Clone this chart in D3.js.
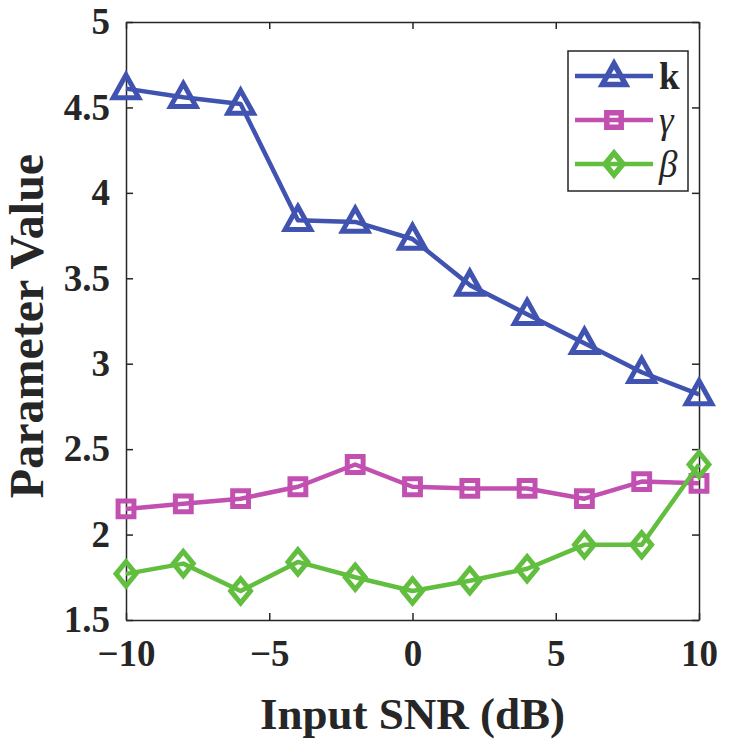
<!DOCTYPE html>
<html>
<head>
<meta charset="utf-8">
<script src="https://cdn.jsdelivr.net/npm/d3@7"></script>
<style>
  body { margin: 0; background: #fff; }
  svg text { font-family: "Liberation Serif", "Times New Roman", serif; fill: #262626; }
</style>
</head>
<body>
<svg></svg>
<script>
// data
const snr = [-10, -8, -6, -4, -2, 0, 2, 4, 6, 8, 10];
const kValues = [4.61, 4.56, 4.52, 3.84, 3.83, 3.73, 3.46, 3.29, 3.12, 2.95, 2.82];
const gammaValues = [2.15, 2.18, 2.21, 2.28, 2.41, 2.28, 2.27, 2.27, 2.21, 2.31, 2.30];
const betaValues = [1.77, 1.83, 1.67, 1.84, 1.75, 1.67, 1.73, 1.80, 1.94, 1.94, 2.41];
const xTicks = [-10, -5, 0, 5, 10];
const yTicks = [1.5, 2, 2.5, 3, 3.5, 4, 4.5, 5];

const series = [
    { name: "k", values: kValues, color: "#4153b0", marker: "triangle", bold: true },
    { name: "\u03b3", values: gammaValues, color: "#c150b0", marker: "square", bold: false },
    { name: "\u03b2", values: betaValues, color: "#62be3e", marker: "diamond", bold: false }
];

const width = 730;
const height = 746;
const margin = { top: 22, right: 31, bottom: 126, left: 126 };
const innerW = width - margin.left - margin.right;
const innerH = height - margin.top - margin.bottom;

const svg = d3.select("svg")
    .attr("width", width)
    .attr("height", height);

const x = d3.scaleLinear().domain([-10, 10]).range([0, innerW]);
const y = d3.scaleLinear().domain([1.5, 5]).range([innerH, 0]);

const g = svg.append("g")
    .attr("transform", `translate(${margin.left},${margin.top})`);

// axes with inward ticks, box on all four sides
const fmtX = d => d < 0 ? "\u2212" + Math.abs(d) : String(d);

const xBottom = g.append("g")
    .attr("transform", `translate(0,${innerH})`)
    .call(d3.axisBottom(x).tickValues(xTicks).tickSizeInner(-7).tickSizeOuter(0).tickPadding(20).tickFormat(fmtX));
const xTop = g.append("g")
    .call(d3.axisTop(x).tickValues(xTicks).tickSizeInner(-7).tickSizeOuter(0).tickFormat(""));
const yLeft = g.append("g")
    .call(d3.axisLeft(y).tickValues(yTicks).tickSizeInner(-7).tickSizeOuter(0).tickPadding(16).tickFormat(d => d));
const yRight = g.append("g")
    .attr("transform", `translate(${innerW},0)`)
    .call(d3.axisRight(y).tickValues(yTicks).tickSizeInner(-7).tickSizeOuter(0).tickFormat(""));

[xBottom, xTop, yLeft, yRight].forEach(a => {
    a.select(".domain").attr("stroke", "#262626").attr("stroke-width", 1.5);
    a.selectAll(".tick line").attr("stroke", "#262626").attr("stroke-width", 1.5);
    a.selectAll("text")
        .style("font-family", "'Liberation Serif', 'Times New Roman', serif")
        .style("font-weight", "bold")
        .style("font-size", "37px")
        .attr("fill", "#262626");
});
xBottom.selectAll("text").attr("dy", "0.71em");

// axis labels
svg.append("text")
    .attr("x", margin.left + innerW / 2)
    .attr("y", 729)
    .attr("text-anchor", "middle")
    .style("font-weight", "bold")
    .style("font-size", "45px")
    .text("Input SNR (dB)");

svg.append("text")
    .attr("transform", `translate(43,${margin.top + innerH / 2 + 5}) rotate(-90)`)
    .attr("text-anchor", "middle")
    .style("font-weight", "bold")
    .style("font-size", "48px")
    .text("Parameter Value");

// marker paths
function markerPath(type, s) {
    if (type === "triangle") {
        return `M0,${-s * 0.62}L${s * 0.58},${s * 0.42}L${-s * 0.58},${s * 0.42}Z`;
    } else if (type === "square") {
        const h = s * 0.36;
        return `M${-h},${-h}L${h},${-h}L${h},${h}L${-h},${h}Z`;
    }
    return `M0,${-s * 0.55}L${s * 0.45},0L0,${s * 0.55}L${-s * 0.45},0Z`;
}

const line = d3.line()
    .x((d, i) => x(snr[i]))
    .y(d => y(d));

series.forEach(s => {
    g.append("path")
        .datum(s.values)
        .attr("fill", "none")
        .attr("stroke", s.color)
        .attr("stroke-width", 4.5)
        .attr("stroke-linejoin", "round")
        .attr("d", line);

    g.selectAll(null)
        .data(s.values)
        .enter().append("path")
        .attr("transform", (d, i) => `translate(${x(snr[i])},${y(d)})`)
        .attr("d", markerPath(s.marker, 22))
        .attr("fill", "none")
        .attr("stroke", s.color)
        .attr("stroke-width", 5)
        .attr("stroke-linejoin", "miter");
});

// legend
const legend = svg.append("g").attr("transform", "translate(568,51)");
legend.append("rect")
    .attr("width", 120)
    .attr("height", 140)
    .attr("fill", "#fff")
    .attr("stroke", "#262626")
    .attr("stroke-width", 1.5);

const entry = legend.selectAll(".entry")
    .data(series)
    .enter().append("g")
    .attr("class", "entry")
    .attr("transform", (d, i) => `translate(0,${25 + i * 44})`);

entry.append("line")
    .attr("x1", 7).attr("x2", 85)
    .attr("stroke", d => d.color)
    .attr("stroke-width", 4.5);

entry.append("path")
    .attr("transform", "translate(46,0)")
    .attr("d", d => markerPath(d.marker, 20))
    .attr("fill", "none")
    .attr("stroke", d => d.color)
    .attr("stroke-width", 5.5);

entry.append("text")
    .attr("x", 91)
    .attr("dy", "0.35em")
    .style("font-size", "37px")
    .style("font-weight", d => d.bold ? "bold" : "normal")
    .style("font-style", d => d.bold ? "normal" : "italic")
    .text(d => d.name);
</script>
</body>
</html>
